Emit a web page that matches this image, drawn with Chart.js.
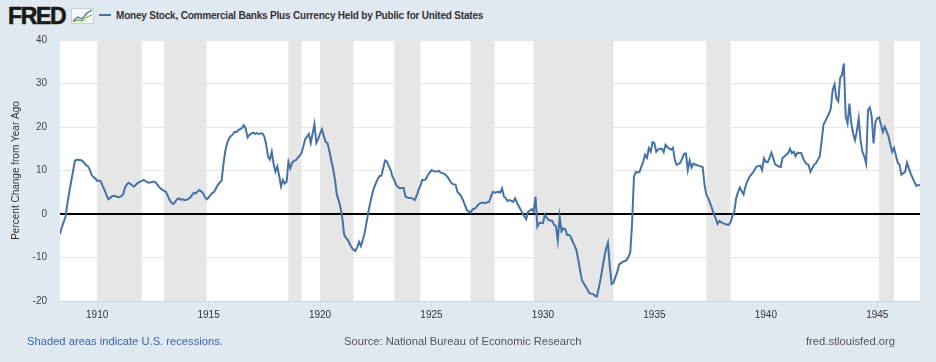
<!DOCTYPE html>
<html lang="en">
<head>
  <meta charset="UTF-8">
  <title>Money Stock, Commercial Banks Plus Currency Held by Public for United States</title>
  <script src="https://cdn.jsdelivr.net/npm/chart.js"></script>
  <style>
    html, body { margin: 0; padding: 0; }
    body { width: 936px; height: 362px; background: #e1e9f0; position: relative; overflow: hidden;
           font-family: "Liberation Sans", Arial, sans-serif; }
    #graph { position: absolute; left: 0; top: 0; }
    .logo { position: absolute; left: 8px; top: 4px; font-size: 23px; font-weight: bold; color: #1a1a1a;
            letter-spacing: -1.3px; line-height: 24px; -webkit-text-stroke: 0.6px #1a1a1a; }
    .logo svg { position: absolute; left: 63px; top: 4px; }
    .legend { position: absolute; left: 99px; top: 9px; font-size: 10px; font-weight: bold; color: #333;
              letter-spacing: -0.2px; line-height: 14px; white-space: nowrap; }
    .legend i { display: inline-block; width: 12px; height: 2px; background: #4572a7; vertical-align: middle;
                margin-right: 5px; position: relative; top: -1px; }
    .foot { position: absolute; top: 334px; font-size: 11.2px; line-height: 14px; white-space: nowrap; }
  </style>
</head>
<body>
  <div class="logo">FRED<svg width="24" height="16" viewBox="0 0 24 16">
      <rect x="0.5" y="0.5" width="22" height="15" fill="#f4f6f8" stroke="#c9d1d9"/>
      <polyline points="2,13 7,9 11,11 16,5 21,2" fill="none" stroke="#4572a7" stroke-width="1.3"/>
      <polyline points="2,14 7,12 11,13 16,9 21,7" fill="none" stroke="#8cb33f" stroke-width="1.3"/>
    </svg></div>
  <div class="legend"><i></i>Money Stock, Commercial Banks Plus Currency Held by Public for United States</div>

  <canvas id="graph" width="936" height="362"></canvas>

  <div class="foot" style="left:27px; color:#3a67a8;">Shaded areas indicate U.S. recessions.</div>
  <div class="foot" style="left:344px; color:#555;">Source: National Bureau of Economic Research</div>
  <div class="foot" style="left:806px; color:#555;">fred.stlouisfed.org</div>

  <script>
    // monthly observations, first one is May 1908
    const startYear = 1908;
    const startMonth = 5;

    const values1908to1919 = [
      -4.6, -3.0, -1.8, -0.6, 2.5, 5.0, 7.5, 9.8,
      12.2, 12.5, 12.4, 12.4, 12.2, 11.8, 11.2, 11.0, 10.2, 9.0, 8.5, 8.2,
      7.6, 7.7, 7.5, 6.4, 5.5, 4.4, 3.4, 3.7, 4.1, 4.2, 4.1, 3.9,
      3.9, 4.1, 4.5, 6.1, 6.8, 7.2, 6.9, 6.5, 6.3, 6.8, 7.2, 7.4,
      7.6, 7.8, 7.6, 7.3, 7.2, 7.3, 7.4, 7.4, 7.0, 6.4, 5.9, 5.6,
      5.3, 5.1, 4.2, 3.2, 2.6, 2.3, 2.8, 3.4, 3.6, 3.3, 3.4, 3.2,
      3.2, 3.5, 3.7, 4.3, 4.9, 4.7, 5.2, 5.5, 5.2, 4.8, 3.9, 3.4,
      3.8, 4.4, 4.8, 5.1, 5.9, 6.7, 7.2, 7.7, 11.5, 14.5, 16.3, 17.4,
      17.9, 18.3, 18.9, 18.8, 19.3, 19.5, 19.8, 20.4, 19.6, 17.6, 18.2, 18.5,
      18.7, 18.4, 18.6, 18.4, 18.5, 18.5, 17.8, 16.0, 13.2, 12.5, 14.3, 11.5,
      9.7, 10.9, 8.8, 6.3, 7.8, 7.0, 7.4, 12.0, 10.5, 11.8, 12.2, 12.4,
      12.9, 13.4, 14.0, 15.5, 17.2, 17.8, 18.4, 16.3, 18.5, 20.7, 16.3, 17.2
    ];
    const values1920to1929 = [
      18.5, 19.5, 18.0, 16.6, 16.3, 14.5, 12.4, 10.5, 8.0, 4.5, 3.2, 1.5,
      -1.0, -4.8, -5.5, -6.0, -6.9, -7.7, -8.2, -8.5, -7.6, -6.4, -7.4, -6.0,
      -4.4, -2.0, 0.5, 2.5, 4.4, 6.0, 7.0, 8.0, 8.7, 8.8, 10.5, 12.3,
      12.1, 11.0, 10.1, 8.6, 7.8, 6.7, 6.2, 5.9, 6.0, 6.0, 4.0, 3.8,
      3.7, 3.7, 3.5, 3.2, 4.2, 5.5, 6.5, 7.8, 7.8, 8.0, 8.9, 9.5,
      10.1, 9.9, 9.7, 9.8, 9.9, 9.5, 9.4, 9.2, 8.8, 8.3, 7.6, 7.0,
      6.8, 6.7, 5.1, 4.6, 4.1, 3.1, 2.1, 0.9, 0.6, 0.3, 1.0, 1.2,
      1.5, 2.1, 2.4, 2.6, 2.6, 2.5, 2.7, 2.8, 4.0, 5.1, 4.9, 5.0,
      5.1, 4.9, 5.9, 4.0, 3.6, 3.0, 3.2, 3.0, 2.8, 3.6, 2.6, 1.8,
      1.0, 0.2, -0.5, -1.2, 0.5, 0.8, 1.1, 0.5, 4.0, -2.9, -2.1, -2.0
    ];
    const values1930to1939 = [
      -2.1, -0.2, -0.8, -1.4, -1.5, -1.6, -2.5, -2.8, -6.1, -0.6, -4.0, -3.3,
      -3.5, -4.8, -4.8, -5.2, -6.4, -7.2, -8.3, -10.5, -12.9, -15.2, -16.0, -16.7,
      -17.4, -18.2, -18.3, -18.4, -18.8, -19.0, -17.1, -15.0, -12.5, -10.0, -8.0, -6.6,
      -12.1, -16.1, -15.8, -14.5, -13.3, -11.6, -11.3, -11.0, -10.8, -10.6, -9.9, -8.9,
      -2.1, 8.6, 9.7, 9.5, 9.7, 10.9, 12.0, 13.6, 12.9, 15.1, 14.3, 16.5,
      16.3, 14.3, 14.8, 15.0, 15.0, 14.2, 15.9, 15.4, 15.0, 14.8, 15.2, 12.4,
      11.3, 11.5, 11.8, 12.8, 13.8, 13.9, 10.1, 12.3, 10.7, 11.6, 11.3, 11.2,
      11.1, 10.9, 10.8, 6.7, 4.4, 3.6, 2.5, 1.3, 0.0, -1.0, -2.3, -1.6,
      -1.9, -2.1, -2.3, -2.4, -2.5, -1.9, -0.5, 0.5, 3.6, 5.0, 6.1, 5.2,
      4.5, 6.3, 7.5, 8.4, 9.0, 9.5, 10.2, 10.9, 11.0, 11.1, 10.1, 12.8
    ];
    const values1940to1946 = [
      12.0, 11.9, 12.9, 14.1, 12.9, 11.4, 11.2, 10.9, 10.8, 12.9, 13.2, 13.6,
      14.0, 15.0, 14.0, 14.3, 13.3, 14.1, 14.0, 14.0, 12.9, 12.0, 11.5, 11.3,
      9.7, 10.5, 11.3, 11.7, 12.5, 13.2, 16.6, 20.5, 21.3, 22.2, 23.1, 24.3,
      28.5, 29.8, 26.6, 25.9, 31.2, 32.0, 34.6, 22.4, 20.8, 25.4, 20.8, 18.5,
      17.0, 19.0, 22.0, 17.0, 14.3, 13.2, 11.6, 23.9, 24.5, 22.4, 16.2, 21.2,
      22.0, 22.2, 20.5, 18.9, 20.1, 19.0, 17.9, 16.0, 14.3, 15.2, 13.5, 11.8,
      11.3, 9.0, 9.4, 9.7, 11.8, 10.5, 9.3, 8.3, 7.4, 6.5, 6.6, 6.7
    ];

    // NBER recessions, as [start, end] in fractional years
    const recessionStarts = [1910.0, 1913.0, 1918.583, 1920.0, 1923.333, 1926.75, 1929.583, 1937.333, 1945.083];
    const recessionEnds   = [1912.0, 1914.917, 1919.167, 1921.5, 1924.5, 1927.833, 1933.167, 1938.417, 1945.75];

    const xTicks = [1910, 1915, 1920, 1925, 1930, 1935, 1940, 1945];
    const yTicks = [-20, -10, 0, 10, 20, 30, 40];

    const values = values1908to1919.concat(values1920to1929, values1930to1939, values1940to1946);
    const points = values.map((v, i) => ({ x: startYear + (startMonth - 1 + i) / 12, y: v }));

    const plotBack = {
      id: 'plotBack',
      beforeDraw(chart) {
        const { ctx, chartArea: a, scales: { x } } = chart;
        ctx.save();
        ctx.fillStyle = '#ffffff';
        ctx.fillRect(a.left, a.top, a.right - a.left, a.bottom - a.top);
        ctx.fillStyle = '#e6e6e6';
        for (let i = 0; i < recessionStarts.length; i++) {
          let x1 = x.getPixelForValue(recessionStarts[i]);
          let x2 = x.getPixelForValue(recessionEnds[i]);
          ctx.fillRect(x1, a.top, x2 - x1, a.bottom - a.top);
        }
        ctx.restore();
      }
    };

    Chart.defaults.font.family = "'Liberation Sans', Arial, sans-serif";

    new Chart(document.getElementById('graph'), {
      type: 'line',
      data: {
        datasets: [{
          data: points,
          borderColor: '#4572a7',
          borderWidth: 2,
          pointRadius: 0,
          tension: 0,
          fill: false
        }]
      },
      options: {
        responsive: false,
        animation: false,
        devicePixelRatio: 1,
        layout: { padding: { top: 40, right: 16, bottom: 36, left: 0 } },
        plugins: { legend: { display: false }, tooltip: { enabled: false } },
        scales: {
          x: {
            type: 'linear',
            min: startYear + (startMonth - 1) / 12,
            max: startYear + (startMonth - 1 + values.length - 1) / 12,
            afterBuildTicks: s => { s.ticks = xTicks.map(v => ({ value: v })); },
            afterFit: s => { s.height = 25; },
            grid: { drawOnChartArea: false, drawTicks: true, tickLength: 6, color: '#ccd6eb' },
            border: { color: '#ccd6eb' },
            ticks: { color: '#333', font: { size: 10 }, padding: 2, maxRotation: 0,
                     callback: v => String(v) }
          },
          y: {
            min: -20,
            max: 40,
            afterBuildTicks: s => { s.ticks = yTicks.map(v => ({ value: v })); },
            afterFit: s => { s.width = 60; },
            grid: {
              drawTicks: false,
              color: c => c.tick && c.tick.value === 0 ? '#000000' : '#e6e6e6',
              lineWidth: c => c.tick && c.tick.value === 0 ? 2 : 1
            },
            border: { display: false },
            ticks: { color: '#444', font: { size: 10 }, padding: 13 },
            title: { display: true, text: 'Percent Change from Year Ago', color: '#333',
                     font: { size: 10 }, padding: { top: 10, bottom: 0 } }
          }
        }
      },
      plugins: [plotBack]
    });
  </script>
</body>
</html>
